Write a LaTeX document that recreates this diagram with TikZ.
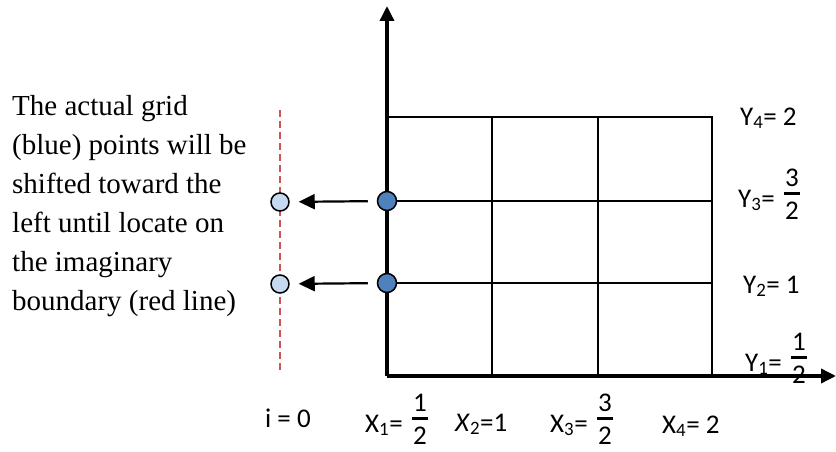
\documentclass[tikz,border=0pt]{standalone}
\usepackage{fontspec}
\setmainfont{Liberation Serif}
\newfontfamily\calfont{Carlito}
\usepackage{tikz}
\usetikzlibrary{arrows.meta, positioning, calc}
\definecolor{cPoint}{RGB}{79,129,189}
\definecolor{cShift}{RGB}{198,217,241}
\definecolor{cBound}{RGB}{205,85,85}
\newcommand{\vfr}[2]{\hspace{3pt}\raisebox{-12pt}{\vbox{\hbox to 16pt{\hss#1\hss}\kern5.5pt\hrule width 16pt height 3pt\kern6.5pt\hbox to 16pt{\hss#2\hss}}}}
\tikzset{
    axisline/.style  ={line width=3.5pt, -{Triangle[length=15pt, width=14pt]}},
    gridline/.style  ={line width=2pt},
    gridpt/.style    ={circle, draw=black, line width=1.5pt, fill=cPoint, minimum size=19pt, inner sep=0pt},
    shiftpt/.style   ={circle, draw=black, line width=1.5pt, fill=cShift, minimum size=18pt, inner sep=0pt},
    shiftarrow/.style={-{Triangle[length=16pt, width=15pt]}, line width=2.2pt, shorten <=9pt, shorten >=9pt},
    boundary/.style  ={draw=cBound, line width=1.5pt, dash pattern=on 7pt off 4pt},
    lbl/.style       ={anchor=base west, inner sep=0pt, font=\calfont\fontsize{27}{32}\selectfont},
}
\begin{document}
\begin{tikzpicture}[x=1pt, y=-1pt]
                \useasboundingbox (0,0) rectangle (836,452);
                % grid
                \draw[gridline] (387,117) -- (712,117) -- (712,376);
                \draw[gridline] (387,201) -- (712,201);
                \draw[gridline] (387,283) -- (712,283);
                \draw[gridline] (492,117) -- (492,376);
                \draw[gridline] (598,117) -- (598,376);
                % axes
                \coordinate (orig) at (387,376);
                \coordinate (ytop) at (387,6);
                \coordinate (xend) at (836,376);
                \draw[axisline] (orig) -- (ytop);
                \draw[axisline] (orig) -- (xend);
                % imaginary boundary
                \coordinate (bdtop) at (280,110);
                \coordinate (bdbot) at (280,370);
                \draw[boundary] (bdtop) -- (bdbot);
                % points
                \node[gridpt] (p3) at (387,201){};
                \node[gridpt] (p2) at (387,283){};
                \node[shiftpt] (s3) at (280,202){};
                \node[shiftpt] (s2) at (280,284){};
                \draw[shiftarrow] (p3) -- (s3);
                \draw[shiftarrow] (p2) -- (s2);
                % note
                \node[anchor=north west, inner sep=0pt, align=left, font=\fontsize{29}{39}\selectfont] (note) at (12,95)
                    {The actual grid\\(blue) points will be\\shifted toward the\\left until locate on\\the imaginary\\boundary (red line)};
                % labels
                \node[lbl] (y4) at (740,125){Y\textsubscript{4}= 2};
                \node[lbl] (y3) at (738,207){Y\textsubscript{3}= \vfr{3}{2}};
                \node[lbl] (y2) at (743,293){Y\textsubscript{2}= 1};
                \node[lbl] (y1) at (745,371){Y\textsubscript{1}= \vfr{1}{2}};
                \node[lbl] (i0) at (265,427){i = 0};
                \node[lbl] (x1) at (365,432){X\textsubscript{1}= \vfr{1}{2}};
                \node[lbl] (x2) at (455,431){\textit{X}\textsubscript{2}=1};
                \node[lbl] (x3) at (550,432){X\textsubscript{3}= \vfr{3}{2}};
                \node[lbl] (x4) at (662,433){X\textsubscript{4}= 2};
            \end{tikzpicture}
\end{document}
